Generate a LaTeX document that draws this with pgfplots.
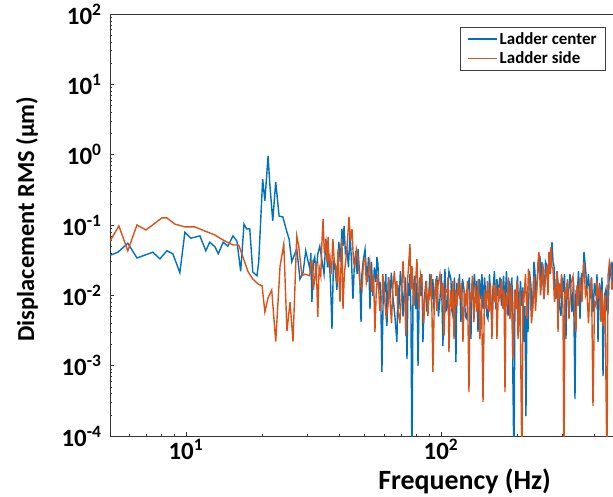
\documentclass[border=0pt]{standalone}
\usepackage{fontspec}
\setmainfont{Carlito}
\usepackage{pgfplots}
\pgfplotsset{compat=1.18}
\definecolor{mblue}{RGB}{0,114,189}
\definecolor{morange}{RGB}{217,83,25}
\begin{document}
\begin{tikzpicture}
\begin{axis}[
  name=ax,
  scale only axis, width=503bp, height=422bp,
  xmode=log, ymode=log,
  xmin=5.04, xmax=472.7, ymin=1e-4, ymax=1e2,
  axis x line*=box, axis y line*=left,
  axis line style={black!80, line width=0.7bp},
  tick style={black!80, line width=0.6bp},
  major tick length=4bp, minor tick length=2.5bp,
  tick align=inside,
  xtick={10,100}, xticklabels={10\textsuperscript{1},10\textsuperscript{2}},
  minor xtick={6,7,8,9,20,30,40,50,60,70,80,90,200,300,400},
  ytick={1e-4,1e-3,1e-2,1e-1,1,10,100},
  yticklabels={10\textsuperscript{-4},10\textsuperscript{-3},10\textsuperscript{-2},10\textsuperscript{-1},10\textsuperscript{0},10\textsuperscript{1},10\textsuperscript{2}},
  minor ytick={2e-4,3e-4,4e-4,5e-4,6e-4,7e-4,8e-4,9e-4,2e-3,3e-3,4e-3,5e-3,6e-3,7e-3,8e-3,9e-3,2e-2,3e-2,4e-2,5e-2,6e-2,7e-2,8e-2,9e-2,0.2,0.3,0.4,0.5,0.6,0.7,0.8,0.9,2,3,4,5,6,7,8,9,20,30,40,50,60,70,80,90},
  tick label style={font=\fontsize{25}{25}\selectfont\bfseries},
  yticklabel style={xshift=-5bp},
  xtick pos=bottom,
  xlabel={Frequency (Hz)},
  ylabel={Displacement RMS (\textmu m)},
  xlabel style={font=\fontsize{28}{28}\selectfont\bfseries, at={(axis description cs:0.705,-0.1256)}, anchor=base},
  ylabel style={font=\fontsize{24.5}{24.5}\selectfont\bfseries, at={(axis description cs:-0.165,0.514)}, anchor=center},
  legend style={at={(axis description cs:0.986,0.969)}, anchor=north east, draw=black!75, line width=0.8bp, font=\fontsize{17}{18}\selectfont\bfseries, inner xsep=7bp, inner ysep=3bp, row sep=2bp, cells={anchor=west}},
  legend image code/.code={\draw[#1] (0bp,0bp) -- (29bp,0bp);},
  every axis plot/.append style={line width=1.4bp},
]
\addplot[mblue] coordinates {
(5.04,0.037)(5.41,0.041)(5.92,0.055)(6.43,0.034)(7.42,0.041)(7.91,0.033)(8.42,0.043)(8.89,0.039)(9.47,0.021)(9.91,0.079)
(10.46,0.065)(11.35,0.070)(11.97,0.043)(12.4,0.057)(13.0,0.049)(13.4,0.039)(14.0,0.057)(14.6,0.050)(15.3,0.070)(15.85,0.059)
(16.4,0.022)(16.9,0.103)(17.3,0.088)(17.8,0.088)(18.3,0.0214)(19.0,0.019)(19.3,0.030)(20.0,0.45)(20.4,0.22)(21.0,0.96)
(21.3,0.41)(21.9,0.114)(22.5,0.41)(23.2,0.134)(24.0,0.13)(24.9,0.079)(25.4,0.063)(26.0,0.030)(27.2,0.046)(28.0,0.017)
(28.8,0.021)(29.5,0.043)
(30.6,0.024)(30.9,0.04)(31.2,0.0080)(31.6,0.03)(32.0,0.0351)(32.4,0.02)(32.9,0.0387)(33.5,0.05)(34.1,0.0328)(34.8,0.02)
(35.4,0.0632)(35.9,0.025)(36.4,0.0362)(36.9,0.015)(37.4,0.00332)(37.9,0.03)(38.4,0.0261)(39.1,0.012)(39.8,0.0573)(40.3,0.03)
(40.9,0.088)(41.3,0.05)(41.7,0.097)(42.2,0.04)(42.8,0.0456)(43.4,0.025)(44.0,0.0795)(44.6,0.03)(45.2,0.00886)(45.8,0.03)
(46.4,0.0427)(46.9,0.02)(47.3,0.0456)(48.0,0.02)(48.6,0.00417)(49.0,0.02)(49.5,0.0298)(50.4,0.045)(51.3,0.0155)(52.0,0.035)
(52.7,0.00638)(53.4,0.03)(54.1,0.0098)(54.8,0.025)(55.6,0.0155)(56.1,0.035)
(56.6,0.0279)(57.2,0.012)(57.7,0.0155)(58.2,0.006)(58.7,0.00081)(59.5,0.016)(60.3,0.0111)(60.8,0.02)(61.4,0.00366)(62.2,0.018)
(63.1,0.00886)(63.9,0.021)(64.8,0.0098)(66.0,0.005)(67.2,0.00217)(67.8,0.014)(68.4,0.00638)(69.3,0.022)(70.3,0.0123)(71.0,0.005)
(71.6,0.0098)(72.6,0.018)(73.6,0.00124)(74.3,0.015)(74.9,0.0098)(75.6,0.02)(76.3,0.00578)(77.0,0.00003)(77.7,0.00886)(78.7,0.019)
(79.8,0.00638)(80.5,0.015)(81.3,0.00099)(82.4,0.018)(83.5,0.0098)(84.2,0.02)(85.0,0.00217)(86.1,0.009)(87.3,0.016)(88.1,0.006)
(88.9,0.00578)(90.5,0.02)(92.2,0.00886)(93.0,0.017)(93.9,0.00638)(95.2,0.012)(96.4,0.0188)(97.8,0.005)(99.1,0.00886)(100.4,0.02)
(101.8,0.0019)(102.8,0.012)(103.7,0.0237)(104.6,0.006)(105.6,0.00638)(107.5,0.022)(109.4,0.0171)(110.4,0.006)(111.4,0.00508)(113.0,0.018)
(114.5,0.00112)(115.5,0.015)(116.6,0.0098)(118.2,0.02)(119.8,0.00417)(121.5,0.017)(123.1,0.0123)(124.8,0.005)(126.5,0.0046)(127.6,0.0136)
(129.3,0.018)(131.1,0.00239)(132.3,0.012)(133.5,0.0098)(135.3,0.02)(137.2,0.00886)(138.4,0.016)(139.7,0.00301)(141.6,0.017)(143.5,0.00886)
(144.8,0.02)(146.2,0.00638)(148.2,0.018)(150.2,0.00886)(151.5,0.005)(152.9,0.0046)(155.0,0.02)(157.1,0.00705)(158.5,0.004)(159.9,0.0123)
(162.1,0.022)(164.3,0.00638)(165.8,0.017)(167.3,0.0098)(170.4,0.018)(173.5,0.00705)(175.9,0.019)(178.3,0.0080)(180.7,0.022)(183.2,0.00508)
(185.7,0.016)(188.2,0.00886)(189.9,0.018)(191.6,0.00051)(193.4,0.00003)(195.1,0.012)(196.9,0.00886)(199.6,0.019)(202.3,0.0046)(205.0,0.016)
(207.8,0.00705)(209.7,0.013)(211.6,0.00217)(213.5,0.007)(215.4,0.000192)(217.4,0.006)(219.4,0.00301)(222.4,0.022)(225.4,0.0136)(227.5,0.005)
(229.5,0.00886)(231.6,0.03)(233.7,0.0214)(235.8,0.008)(238.0,0.0155)(241.2,0.026)(244.5,0.0362)(246.7,0.012)(249.0,0.0298)(251.2,0.015)
(253.5,0.00886)(257.0,0.03)(260.4,0.0261)(262.8,0.012)(265.2,0.0413)(268.8,0.02)(272.5,0.0573)(275.0,0.03)(277.5,0.0261)(280.0,0.012)
(282.5,0.00886)(285.1,0.022)(287.7,0.0155)(291.6,0.007)(295.6,0.00508)(298.3,0.018)(301.0,0.0111)(305.1,0.02)(309.2,0.00239)(312.0,0.015)
(314.8,0.00886)(320.6,0.02)(326.4,0.00578)(330.9,0.016)(335.4,0.000335)(338.4,0.012)(341.5,0.00886)(346.2,0.022)(350.9,0.0046)(355.7,0.02)
(360.5,0.0188)(363.8,0.0413)(368.7,0.025)(373.7,0.0123)(378.8,0.02)(384.0,0.00886)(389.3,0.018)(394.6,0.00578)(400.0,0.015)(405.4,0.0098)
(409.1,0.02)(412.8,0.00217)(418.4,0.015)(424.1,0.0080)(428.0,0.018)(431.9,0.00071)(437.8,0.01)(443.7,0.0123)(447.7,0.006)(451.8,0.00578)
(458.0,0.025)(464.2,0.0188)(468.4,0.03)(472.7,0.0136)
};
\addlegendentry{Ladder center}
\addplot[morange] coordinates {
(5.04,0.059)(5.46,0.097)(5.92,0.043)(6.43,0.10)(6.97,0.085)(8.05,0.126)(8.42,0.126)(9.05,0.103)(9.91,0.094)(10.85,0.094)
(11.87,0.082)(13.0,0.072)(13.6,0.065)(14.5,0.057)(15.3,0.052)(16.1,0.052)(16.7,0.036)(17.5,0.022)(18.3,0.017)(19.2,0.0145)
(19.9,0.0136)(20.4,0.0058)(21.0,0.0092)(21.7,0.0119)(22.5,0.0022)(23.4,0.026)(24.2,0.054)(24.9,0.0031)(25.6,0.0080)(26.3,0.0022)
(27.2,0.070)(27.7,0.050)(28.5,0.019)(29.3,0.020)
(30.6,0.019)(30.9,0.03)(31.2,0.0308)(31.6,0.012)(32.0,0.0171)(32.4,0.03)(32.9,0.00491)(33.3,0.025)(33.8,0.0188)(34.1,0.05)
(34.5,0.122)(34.9,0.04)(35.4,0.0573)(35.8,0.03)(36.1,0.0675)(36.4,0.03)(36.7,0.0351)(37.2,0.02)(37.7,0.0632)(38.2,0.03)
(38.7,0.0261)(39.1,0.015)(39.5,0.0456)(39.8,0.02)(40.2,0.0080)(40.6,0.03)(40.9,0.0632)(41.1,0.02)(41.3,0.00638)(41.8,0.02)
(42.4,0.0328)(43.0,0.06)(43.6,0.130)(44.2,0.06)(44.8,0.088)(45.4,0.03)(46.0,0.0261)(46.6,0.045)(47.3,0.0328)(48.1,0.015)
(49.0,0.0123)(49.7,0.03)(50.4,0.0328)(51.0,0.015)(51.7,0.0188)(52.6,0.03)(53.6,0.0111)(54.4,0.02)
(55.1,0.00301)(55.8,0.012)(56.6,0.0201)(57.6,0.006)(58.7,0.0098)(59.2,0.02)(59.8,0.0123)(60.9,0.005)(62.0,0.00705)(62.5,0.018)
(63.1,0.00886)(64.0,0.004)(64.8,0.0136)(65.7,0.022)(66.6,0.0098)(67.2,0.016)(67.8,0.00638)(69.0,0.004)(70.3,0.0136)(71.0,0.0308)
(72.0,0.012)(72.9,0.00264)(73.5,0.01)(74.2,0.0188)(75.6,0.0537)(76.3,0.012)(77.0,0.0261)(77.7,0.012)(78.4,0.00705)(79.5,0.015)
(80.5,0.0328)(81.2,0.012)(82.0,0.00638)(83.2,0.02)(84.3,0.0155)(85.5,0.004)(86.6,0.00886)(87.8,0.016)(88.9,0.00508)(89.7,0.012)
(90.5,0.0098)(91.7,0.02)(93.0,0.00081)(94.3,0.01)(95.6,0.0171)(96.4,0.006)(97.3,0.0136)(99.1,0.02)(100.9,0.00886)(101.8,0.015)
(102.8,0.00264)(104.2,0.012)(105.6,0.0111)(106.5,0.018)(107.5,0.00156)(108.9,0.012)(110.4,0.00638)(111.4,0.016)(112.5,0.00239)(114.0,0.012)
(115.5,0.00705)(117.1,0.017)(118.7,0.00886)(120.3,0.015)(122.0,0.00217)(123.6,0.012)(125.3,0.00705)(127.0,0.016)(128.8,0.00042)(130.0,0.01)
(131.1,0.00886)(132.9,0.019)(134.7,0.00417)(136.5,0.014)(138.4,0.00578)(140.3,0.017)(142.2,0.00239)(144.2,0.01)(146.2,0.000303)(148.2,0.012)
(150.2,0.00638)(152.2,0.016)(154.3,0.00578)(156.4,0.015)(158.5,0.00239)(160.7,0.014)(162.9,0.0080)(164.3,0.015)(165.8,0.00239)(168.1,0.013)
(170.4,0.00886)(172.7,0.017)(175.1,0.00638)(176.7,0.012)(178.3,0.00042)(179.9,0.01)(181.5,0.00705)(184.0,0.018)(186.5,0.0046)(189.0,0.014)
(191.6,0.00124)(194.2,0.012)(196.9,0.00638)(198.7,0.016)(200.5,0.00239)(204.1,0.012)(207.8,0.00003)(209.7,0.01)(211.6,0.00886)(214.5,0.02)
(217.4,0.0046)(220.4,0.024)(223.4,0.0136)(226.4,0.004)(229.5,0.00705)(231.6,0.0188)(234.8,0.006)(238.0,0.0136)(240.1,0.03)(242.3,0.0413)
(245.6,0.01)(249.0,0.0188)(251.2,0.028)(253.5,0.00886)(257.0,0.018)(260.4,0.0261)(262.8,0.01)(265.2,0.0413)(267.6,0.02)(270.0,0.0487)
(272.5,0.025)(275.0,0.0237)(278.7,0.008)(282.5,0.0136)(285.1,0.022)(287.7,0.00301)(290.3,0.015)(292.9,0.00886)(297.0,0.02)(301.0,0.00638)
(303.7,0.00003)(306.4,0.012)(309.2,0.00886)(313.4,0.017)(317.7,0.0046)(323.5,0.015)(329.4,0.0188)(333.9,0.006)(338.4,0.00301)(341.5,0.014)
(344.6,0.00705)(351.0,0.018)(357.3,0.0080)(360.5,0.018)(363.8,0.0298)(368.7,0.01)(373.7,0.0123)(378.8,0.004)(384.0,0.0111)(389.3,0.018)
(394.6,0.000266)(400.0,0.008)(405.4,0.00705)(409.1,0.016)(412.8,0.00886)(418.4,0.014)(424.1,0.00417)(428.0,0.012)(431.9,0.00366)(439.8,0.01)
(447.7,0.00003)(451.8,0.0188)(458.0,0.03)(464.2,0.0237)(468.4,0.012)(472.7,0.0155)
};
\addlegendentry{Ladder side}
\coordinate (bl) at (rel axis cs:0,0);
\coordinate (tr) at (rel axis cs:1,1);
\end{axis}
\pgfresetboundingbox
\path[use as bounding box] ([xshift=-110bp,yshift=-61bp]bl) rectangle ([yshift=14bp]tr);
\end{tikzpicture}
\end{document}
